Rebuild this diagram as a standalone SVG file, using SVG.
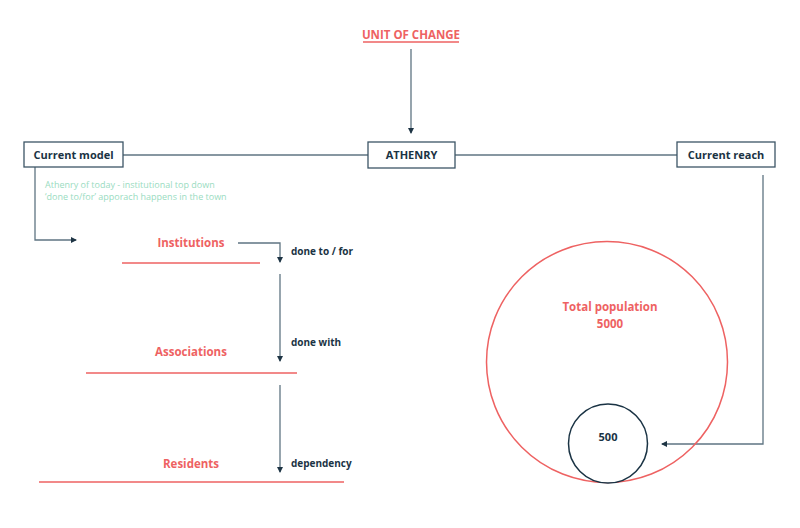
<svg xmlns="http://www.w3.org/2000/svg" width="800" height="528" viewBox="0 0 800 528">
<defs>
<marker id="ah" viewBox="0 0 6 6" refX="5" refY="3" markerWidth="6" markerHeight="6" markerUnits="userSpaceOnUse" orient="auto">
<path d="M0,0 L6,3 L0,6 Z" fill="#1e3444"/>
</marker>
<style>
.lbl{font-family:"Open Sans","Liberation Sans",sans-serif;font-weight:700;}
.dk{fill:#1a3344;font-size:11px;}
.rd{fill:#ee6262;font-size:11.5px;}
.box{fill:#fff;stroke:#3c5566;stroke-width:1.3;}
.con{fill:none;stroke:#5f7482;stroke-width:1.3;}
.ul{stroke:#ee6262;stroke-width:1.5;}
.note{font-family:"Open Sans","Liberation Sans",sans-serif;font-size:9px;fill:#9adcbf;}
</style>
</defs>
<rect width="800" height="528" fill="#fff"/>
<g id="connectors">
<line class="con" x1="411" y1="49" x2="411" y2="133" marker-end="url(#ah)"/>
<line class="con" x1="123" y1="155" x2="368" y2="155"/>
<line class="con" x1="455" y1="155" x2="677" y2="155"/>
<polyline class="con" points="35,167 35,240 76,240" marker-end="url(#ah)"/>
<polyline class="con" points="238,243 280,243 280,262" marker-end="url(#ah)"/>
<line class="con" x1="280" y1="274" x2="280" y2="361" marker-end="url(#ah)"/>
<line class="con" x1="280" y1="385" x2="280" y2="472" marker-end="url(#ah)"/>
<polyline class="con" points="763,175 763,444 662,444" marker-end="url(#ah)"/>
</g>
<g id="unit-of-change">
<text class="lbl rd" x="411" y="39" text-anchor="middle">UNIT OF CHANGE</text>
<line class="ul" x1="363" y1="42" x2="459" y2="42"/>
</g>
<g id="athenry">
<rect class="box" x="368" y="142" width="87" height="26"/>
<text class="lbl dk" x="411.5" y="159" text-anchor="middle">ATHENRY</text>
</g>
<g id="current-model">
<rect class="box" x="24" y="142" width="99" height="25"/>
<text class="lbl dk" x="73.5" y="159" text-anchor="middle">Current model</text>
</g>
<g id="current-reach">
<rect class="box" x="677" y="142" width="98" height="25"/>
<text class="lbl dk" x="726" y="159" text-anchor="middle">Current reach</text>
</g>
<g id="note">
<text class="note" x="45" y="188">Athenry of today - institutional top down</text>
<text class="note" x="45" y="200">‘done to/for’ apporach happens in the town</text>
</g>
<g id="institutions">
<text class="lbl rd" x="191" y="247" text-anchor="middle">Institutions</text>
<line class="ul" x1="122" y1="263" x2="260" y2="263"/>
</g>
<g id="associations">
<text class="lbl rd" x="191" y="356" text-anchor="middle">Associations</text>
<line class="ul" x1="86" y1="373" x2="297" y2="373"/>
</g>
<g id="residents">
<text class="lbl rd" x="191" y="468" text-anchor="middle">Residents</text>
<line class="ul" x1="39" y1="482" x2="344" y2="482"/>
</g>
<g id="edge-labels">
<text class="lbl dk" x="291" y="255" style="font-size:10px">done to / for</text>
<text class="lbl dk" x="291" y="346" style="font-size:10px">done with</text>
<text class="lbl dk" x="291" y="467" style="font-size:10px">dependency</text>
</g>
<g id="total-population">
<circle cx="607" cy="362" r="120.5" fill="none" stroke="#ee6262" stroke-width="1.5"/>
<text class="lbl rd" x="610" y="311" text-anchor="middle">Total population</text>
<text class="lbl rd" x="610" y="328" text-anchor="middle">5000</text>
</g>
<g id="reach-500">
<circle cx="608" cy="443.5" r="39.5" fill="#fff" stroke="#1a3344" stroke-width="1.5"/>
<text class="lbl dk" x="608" y="441" text-anchor="middle">500</text>
</g>
</svg>
